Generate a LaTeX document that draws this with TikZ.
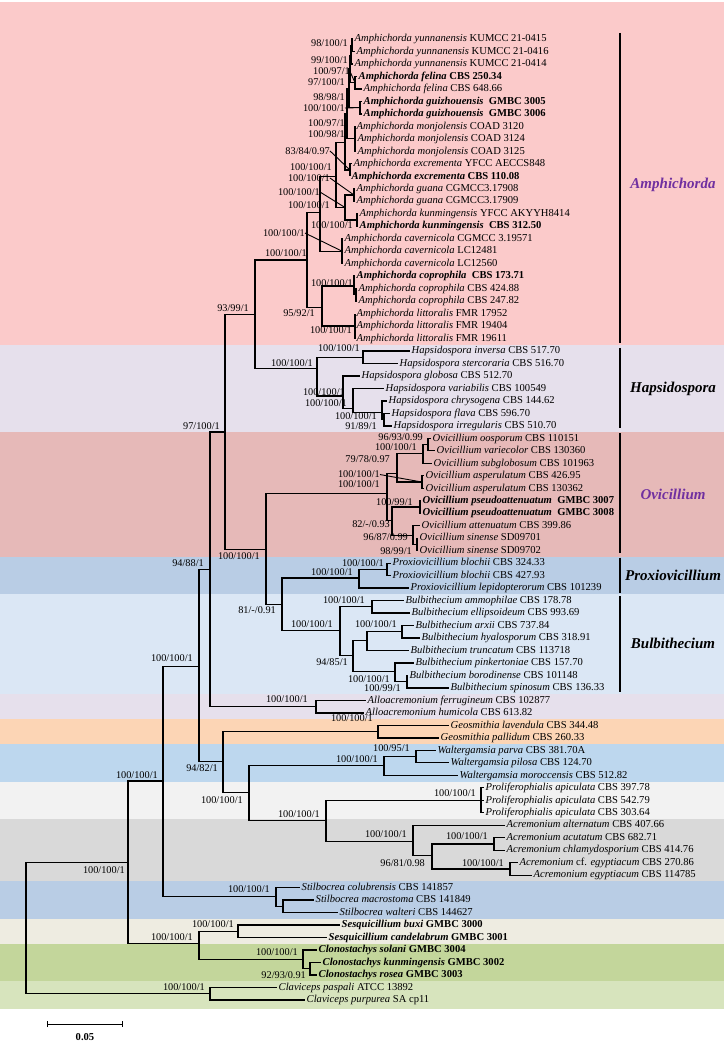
\documentclass[tikz,border=0pt]{standalone}
\usepackage{fontspec}
\setmainfont{Liberation Serif}
\usetikzlibrary{arrows.meta}

\definecolor{cAmph}{HTML}{FBCACA}
\definecolor{cHaps}{HTML}{E6E0EC}
\definecolor{cOvi}{HTML}{E6B9B8}
\definecolor{cProx}{HTML}{B9CDE5}
\definecolor{cBulb}{HTML}{DBE7F5}
\definecolor{cGeos}{HTML}{FCD5B5}
\definecolor{cWalt}{HTML}{BDD7EE}
\definecolor{cProl}{HTML}{F2F2F2}
\definecolor{cAcre}{HTML}{D9D9D9}
\definecolor{cSesq}{HTML}{EEECE1}
\definecolor{cClon}{HTML}{C3D69B}
\definecolor{cClav}{HTML}{D7E4BD}
\definecolor{cPurp}{HTML}{7030A0}

\newcommand{\tx}[2]{\textit{#1} #2}
\newcommand{\txb}[2]{\textbf{\textit{#1} #2}}

\tikzset{
  br/.style={line width=1.3pt},
  leaf/.style={anchor=west, inner sep=1.5pt, text height=7.5pt, text depth=2pt,
    font=\fontsize{10.6}{12}\selectfont},
  bs/.style={anchor=east, inner sep=0pt, font=\fontsize{10.3}{12}\selectfont},
  ptr/.style={line width=0.9pt},
  clade/.style={font=\fontsize{15}{18}\selectfont\bfseries\itshape},
  cbar/.style={line width=2.4pt},
}

\begin{document}
\begin{tikzpicture}[x=1pt, y=-12.48pt]
\useasboundingbox (0,-2.125) rectangle (724,81.69);

% background bands
\foreach \c/\a/\b in {cAmph/-2.0/25.5, cHaps/25.5/32.5, cOvi/32.5/42.5, cProx/42.5/45.5,
    cBulb/45.5/53.5, cHaps/53.5/55.5, cGeos/55.5/57.5, cWalt/57.5/60.5, cProl/60.5/63.5,
    cAcre/63.5/68.5, cProx/68.5/71.5, cSesq/71.5/73.5, cClon/73.5/76.5, cClav/76.5/78.7}
  \fill[\c] (0,\a) rectangle (724,\b);

% taxa
\node[leaf] (yun1) at (353,1) {\tx{Amphichorda yunnanensis}{KUMCC 21-0415}};
\node[leaf] (yun2) at (355,2) {\tx{Amphichorda yunnanensis}{KUMCC 21-0416}};
\node[leaf] (yun3) at (353,3) {\tx{Amphichorda yunnanensis}{KUMCC 21-0414}};
\node[leaf] (fel1) at (357,4) {\txb{Amphichorda felina}{CBS 250.34}};
\node[leaf] (fel2) at (362,5) {\tx{Amphichorda felina}{CBS 648.66}};
\node[leaf] (gui1) at (362,6) {\txb{Amphichorda guizhouensis}{~GMBC 3005}};
\node[leaf] (gui2) at (362,7) {\txb{Amphichorda guizhouensis}{~GMBC 3006}};
\node[leaf] (mon1) at (355,8) {\tx{Amphichorda monjolensis}{COAD 3120}};
\node[leaf] (mon2) at (356,9) {\tx{Amphichorda monjolensis}{COAD 3124}};
\node[leaf] (mon3) at (356,10) {\tx{Amphichorda monjolensis}{COAD 3125}};
\node[leaf] (exc1) at (352,11) {\tx{Amphichorda excrementa}{YFCC AECCS848}};
\node[leaf] (exc2) at (350,12) {\txb{Amphichorda excrementa}{CBS 110.08}};
\node[leaf] (gua1) at (355,13) {\tx{Amphichorda guana}{CGMCC3.17908}};
\node[leaf] (gua2) at (355,14) {\tx{Amphichorda guana}{CGMCC3.17909}};
\node[leaf] (kun1) at (358,15) {\tx{Amphichorda kunmingensis}{YFCC AKYYH8414}};
\node[leaf] (kun2) at (358,16) {\txb{Amphichorda kunmingensis}{~CBS 312.50}};
\node[leaf] (cav1) at (343,17) {\tx{Amphichorda cavernicola}{CGMCC 3.19571}};
\node[leaf] (cav2) at (343,18) {\tx{Amphichorda cavernicola}{LC12481}};
\node[leaf] (cav3) at (343,19) {\tx{Amphichorda cavernicola}{LC12560}};
\node[leaf] (cop1) at (355,20) {\txb{Amphichorda coprophila}{~CBS 173.71}};
\node[leaf] (cop2) at (357,21) {\tx{Amphichorda coprophila}{CBS 424.88}};
\node[leaf] (cop3) at (357,22) {\tx{Amphichorda coprophila}{CBS 247.82}};
\node[leaf] (lit1) at (355,23) {\tx{Amphichorda littoralis}{FMR 17952}};
\node[leaf] (lit2) at (355,24) {\tx{Amphichorda littoralis}{FMR 19404}};
\node[leaf] (lit3) at (355,25) {\tx{Amphichorda littoralis}{FMR 19611}};
\node[leaf] (hinv) at (410,26) {\tx{Hapsidospora inversa}{CBS 517.70}};
\node[leaf] (hste) at (398,27) {\tx{Hapsidospora stercoraria}{CBS 516.70}};
\node[leaf] (hglo) at (360,28) {\tx{Hapsidospora globosa}{CBS 512.70}};
\node[leaf] (hvar) at (384,29) {\tx{Hapsidospora variabilis}{CBS 100549}};
\node[leaf] (hchr) at (387,30) {\tx{Hapsidospora chrysogena}{CBS 144.62}};
\node[leaf] (hfla) at (390,31) {\tx{Hapsidospora flava}{CBS 596.70}};
\node[leaf] (hirr) at (392,32) {\tx{Hapsidospora irregularis}{CBS 510.70}};
\node[leaf] (ooos) at (431,33) {\tx{Ovicillium oosporum}{CBS 110151}};
\node[leaf] (ovar) at (435,34) {\tx{Ovicillium variecolor}{CBS 130360}};
\node[leaf] (osub) at (432,35) {\tx{Ovicillium subglobosum}{CBS 101963}};
\node[leaf] (oasp1) at (424,36) {\tx{Ovicillium asperulatum}{CBS 426.95}};
\node[leaf] (oasp2) at (424,37) {\tx{Ovicillium asperulatum}{CBS 130362}};
\node[leaf] (opse1) at (421,38) {\txb{Ovicillium pseudoattenuatum}{~GMBC 3007}};
\node[leaf] (opse2) at (421,39) {\txb{Ovicillium pseudoattenuatum}{~GMBC 3008}};
\node[leaf] (oatt) at (420,40) {\tx{Ovicillium attenuatum}{CBS 399.86}};
\node[leaf] (osin1) at (418,41) {\tx{Ovicillium sinense}{SD09701}};
\node[leaf] (osin2) at (418,42) {\tx{Ovicillium sinense}{SD09702}};
\node[leaf] (pblo1) at (391,43) {\tx{Proxiovicillium blochii}{CBS 324.33}};
\node[leaf] (pblo2) at (391,44) {\tx{Proxiovicillium blochii}{CBS 427.93}};
\node[leaf] (plep) at (409,45) {\tx{Proxiovicillium lepidopterorum}{CBS 101239}};
\node[leaf] (bamm) at (404,46) {\tx{Bulbithecium ammophilae}{CBS 178.78}};
\node[leaf] (bell) at (410,47) {\tx{Bulbithecium ellipsoideum}{CBS 993.69}};
\node[leaf] (barx) at (414,48) {\tx{Bulbithecium arxii}{CBS 737.84}};
\node[leaf] (bhya) at (420,49) {\tx{Bulbithecium hyalosporum}{CBS 318.91}};
\node[leaf] (btru) at (409,50) {\tx{Bulbithecium truncatum}{CBS 113718}};
\node[leaf] (bpin) at (414,51) {\tx{Bulbithecium pinkertoniae}{CBS 157.70}};
\node[leaf] (bbor) at (408,52) {\tx{Bulbithecium borodinense}{CBS 101148}};
\node[leaf] (bspi) at (449,53) {\tx{Bulbithecium spinosum}{CBS 136.33}};
\node[leaf] (afer) at (366,54) {\tx{Alloacremonium ferrugineum}{CBS 102877}};
\node[leaf] (ahum) at (364,55) {\tx{Alloacremonium humicola}{CBS 613.82}};
\node[leaf] (glav) at (449,56) {\tx{Geosmithia lavendula}{CBS 344.48}};
\node[leaf] (gpal) at (439,57) {\tx{Geosmithia pallidum}{CBS 260.33}};
\node[leaf] (wpar) at (436,58) {\tx{Waltergamsia parva}{CBS 381.70A}};
\node[leaf] (wpil) at (449,59) {\tx{Waltergamsia pilosa}{CBS 124.70}};
\node[leaf] (wmor) at (458,60) {\tx{Waltergamsia moroccensis}{CBS 512.82}};
\node[leaf] (pap1) at (484,61) {\tx{Proliferophialis apiculata}{CBS 397.78}};
\node[leaf] (pap2) at (484,62) {\tx{Proliferophialis apiculata}{CBS 542.79}};
\node[leaf] (pap3) at (484,63) {\tx{Proliferophialis apiculata}{CBS 303.64}};
\node[leaf] (aalt) at (505,64) {\tx{Acremonium alternatum}{CBS 407.66}};
\node[leaf] (aacu) at (505,65) {\tx{Acremonium acutatum}{CBS 682.71}};
\node[leaf] (achl) at (505,66) {\tx{Acremonium chlamydosporium}{CBS 414.76}};
\node[leaf] (acfe) at (518,67) {\textit{Acremonium} cf. \textit{egyptiacum} CBS 270.86};
\node[leaf] (aegy) at (532,68) {\tx{Acremonium egyptiacum}{CBS 114785}};
\node[leaf] (scol) at (300,69) {\tx{Stilbocrea colubrensis}{CBS 141857}};
\node[leaf] (smac) at (314,70) {\tx{Stilbocrea macrostoma}{CBS 141849}};
\node[leaf] (swal) at (338,71) {\tx{Stilbocrea walteri}{CBS 144627}};
\node[leaf] (sbux) at (340,72) {\txb{Sesquicillium buxi}{GMBC 3000}};
\node[leaf] (scan) at (327,73) {\txb{Sesquicillium candelabrum}{GMBC 3001}};
\node[leaf] (csol) at (317,74) {\txb{Clonostachys solani}{GMBC 3004}};
\node[leaf] (ckun) at (321,75) {\txb{Clonostachys kunmingensis}{GMBC 3002}};
\node[leaf] (cros) at (317,76) {\txb{Clonostachys rosea}{GMBC 3003}};
\node[leaf] (cpas) at (277,77) {\tx{Claviceps paspali}{ATCC 13892}};
\node[leaf] (cpur) at (305,78) {\tx{Claviceps purpurea}{SA cp11}};

% internal nodes
\coordinate (root) at (26,72);
\coordinate (clav) at (210,77.5);
\coordinate (nA) at (128,67.0);
\coordinate (nB) at (163,60.45);
\coordinate (nC) at (199,73.5);
\coordinate (stil) at (276,69.7);
\coordinate (stil2) at (283,70.5);
\coordinate (sesq) at (238,72.5);
\coordinate (clon) at (303,74.75);
\coordinate (clon2) at (310,75.5);
\coordinate (nD) at (199,51.3);
\coordinate (nG) at (223,58.9);
\coordinate (geos) at (378,56.5);
\coordinate (nW) at (249,61.4);
\coordinate (walt) at (384,59.2);
\coordinate (walt2) at (416,58.5);
\coordinate (nPA) at (326,63.6);
\coordinate (prol) at (481,62);
\coordinate (acr) at (413,65.3);
\coordinate (acr2) at (432,66.4);
\coordinate (acr3) at (494,65.5);
\coordinate (acr4) at (510,67.5);
\coordinate (nE) at (210,43.5);
\coordinate (allo) at (316,54.5);
\coordinate (nH) at (225,32.5);
\coordinate (nF) at (266,41.9);
\coordinate (pb) at (282,46.3);
\coordinate (prox) at (359,44.2);
\coordinate (prox2) at (387,43.5);
\coordinate (bulb) at (340,48.4);
\coordinate (bul1) at (372,46.5);
\coordinate (bulB) at (353,50.4);
\coordinate (bul3) at (367,49.2);
\coordinate (bul2) at (402,48.5);
\coordinate (bul5) at (395,51.7);
\coordinate (bul6) at (407,52.5);
\coordinate (ovi) at (387,37.4);
\coordinate (oA) at (397,35.8);
\coordinate (oA1) at (423,34.2);
\coordinate (oA2) at (428,33.5);
\coordinate (asp) at (422,36.5);
\coordinate (oB) at (392,39.6);
\coordinate (pse) at (420,38.5);
\coordinate (oC) at (413,40.8);
\coordinate (sin) at (417,41.5);
\coordinate (amha) at (255,23.1);
\coordinate (haps) at (317,27.4);
\coordinate (hapsA) at (363,26.5);
\coordinate (hapsB) at (343,29.6);
\coordinate (hapsC) at (353,30.6);
\coordinate (hapsD) at (382,30.9);
\coordinate (hapsE) at (384,31.5);
\coordinate (amph) at (307,18.7);
\coordinate (amA) at (320,14.9);
\coordinate (amB) at (322,22.5);
\coordinate (amC) at (336,12.0);
\coordinate (amD) at (345,9.3);
\coordinate (amE) at (347,7.0);
\coordinate (amF) at (349,5.0);
\coordinate (amG) at (350,3.4);
\coordinate (yunB) at (351,2.3);
\coordinate (yunA) at (352,1.5);
\coordinate (felA) at (355,4.5);
\coordinate (guiA) at (360,6.5);
\coordinate (monA) at (355,9);
\coordinate (excA) at (350,11.5);
\coordinate (gkA) at (345,14.5);
\coordinate (guaA) at (354,13.5);
\coordinate (kunA) at (357,15.5);
\coordinate (cavA) at (342,18);
\coordinate (copA) at (354,20.8);
\coordinate (copB) at (356,21.5);
\coordinate (litA) at (355,24);

% branches between clades
\foreach \p/\c in {root/nA, root/clav, nA/nB, nA/nC, nB/nD, nB/stil, stil/stil2, nC/sesq,
    nC/clon, clon/clon2, nD/nE, nD/nG, nG/geos, nG/nW, nW/walt, nW/nPA, walt/walt2,
    nPA/prol, nPA/acr, acr/acr2, acr2/acr3, acr2/acr4, nE/nH, nE/allo, nH/amha, nH/nF,
    nF/ovi, nF/pb, pb/prox, pb/bulb, prox/prox2, bulb/bul1, bulb/bulB, bulB/bul3,
    bulB/bul5, bul3/bul2, bul5/bul6, ovi/oA, ovi/oB, oA/oA1, oA/asp, oA1/oA2, oB/pse,
    oB/oC, oC/sin, amha/amph, amha/haps, haps/hapsA, haps/hapsB, hapsB/hapsC,
    hapsC/hapsD, hapsD/hapsE, amph/amA, amph/amB, amA/amC, amA/cavA, amC/amD, amC/gkA,
    amD/amE, amD/excA, amE/amF, amE/monA, amF/amG, amF/guiA, amG/yunB, amG/felA,
    yunB/yunA, gkA/guaA, gkA/kunA, amB/copA, amB/litA, copA/copB}
  \draw[br] (\p) |- (\c);

% branches to taxa
\foreach \p/\c in {clav/cpas, clav/cpur, stil/scol, stil2/smac, stil2/swal, sesq/sbux,
    sesq/scan, clon/csol, clon2/ckun, clon2/cros, geos/glav, geos/gpal, walt/wmor,
    walt2/wpar, walt2/wpil, prol/pap1, prol/pap2, prol/pap3, acr/aalt, acr3/aacu,
    acr3/achl, acr4/acfe, acr4/aegy, allo/afer, allo/ahum, prox/plep, prox2/pblo1,
    prox2/pblo2, bul1/bamm, bul1/bell, bul2/barx, bul2/bhya, bul3/btru, bul5/bpin,
    bul6/bbor, bul6/bspi, oA2/ooos, oA2/ovar, oA1/osub, asp/oasp1, asp/oasp2,
    pse/opse1, pse/opse2, oC/oatt, sin/osin1, sin/osin2, hapsA/hinv, hapsA/hste,
    hapsB/hglo, hapsC/hvar, hapsD/hchr, hapsE/hfla, hapsE/hirr, yunA/yun1, yunA/yun2,
    yunB/yun3, felA/fel1, felA/fel2, guiA/gui1, guiA/gui2, monA/mon1, monA/mon2,
    monA/mon3, excA/exc1, excA/exc2, guaA/gua1, guaA/gua2, kunA/kun1, kunA/kun2,
    cavA/cav1, cavA/cav2, cavA/cav3, copA/cop1, copB/cop2, copB/cop3, litA/lit1,
    litA/lit2, litA/lit3}
  \draw[br] (\p) |- (\c.west);

% support values (ML/MP/PP)
\node[bs] (clavL) at (205,76.95) {100/100/1};
\node[bs] (nAL) at (125,67.6) {100/100/1};
\node[bs] (nBL) at (158,60.0) {100/100/1};
\node[bs] (nCL) at (193,73.0) {100/100/1};
\node[bs] (sesqL) at (234,71.95) {100/100/1};
\node[bs] (clonL) at (298,74.2) {100/100/1};
\node[bs] (clon2L) at (306,76.0) {92/93/0.91};
\node[bs] (stilL) at (270,69.1) {100/100/1};
\node[bs] (nDL) at (193,50.6) {100/100/1};
\node[bs] (nGL) at (218,59.4) {94/82/1};
\node[bs] (geosL) at (373,55.4) {100/100/1};
\node[bs] (nWL) at (243,62.0) {100/100/1};
\node[bs] (waltL) at (378,58.7) {100/100/1};
\node[bs] (walt2L) at (410,57.8) {100/95/1};
\node[bs] (nPAL) at (320,63.1) {100/100/1};
\node[bs] (prolL) at (476,61.4) {100/100/1};
\node[bs] (acrL) at (407,64.7) {100/100/1};
\node[bs] (acr2L) at (425,67.0) {96/81/0.98};
\node[bs] (acr3L) at (488,64.9) {100/100/1};
\node[bs] (acr4L) at (504,67.0) {100/100/1};
\node[bs] (nEL) at (204,43.0) {94/88/1};
\node[bs] (alloL) at (308,53.9) {100/100/1};
\node[bs] (nHL) at (220,32.0) {97/100/1};
\node[bs] (nFL) at (260,42.4) {100/100/1};
\node[bs] (pbL) at (276,46.8) {81/-/0.91};
\node[bs] (proxL) at (353,43.7) {100/100/1};
\node[bs] (prox2L) at (384,43.0) {100/100/1};
\node[bs] (bulbL) at (333,47.9) {100/100/1};
\node[bs] (bul1L) at (365,45.95) {100/100/1};
\node[bs] (bul2L) at (397,47.9) {100/100/1};
\node[bs] (bulBL) at (348,50.9) {94/85/1};
\node[bs] (bul5L) at (390,52.3) {100/100/1};
\node[bs] (bul6L) at (401,53.0) {100/99/1};
\node[bs] (oviL) at (380,36.7) {100/100/1};
\node[bs] (oA2L) at (423,32.9) {96/93/0.99};
\node[bs] (oA1L) at (417,33.7) {100/100/1};
\node[bs] (oAL) at (390,34.7) {79/78/0.97};
\node[bs] (aspL) at (380,35.9) {100/100/1};
\node[bs] (pseL) at (413,38.1) {100/99/1};
\node[bs] (oBL) at (390,39.9) {82/-/0.93};
\node[bs] (oCL) at (408,40.9) {96/87/0.99};
\node[bs] (sinL) at (412,42.0) {98/99/1};
\node[bs] (amhaL) at (249,22.6) {93/99/1};
\node[bs] (amphL) at (307,18.15) {100/100/1};
\node[bs] (hapsL) at (313,27.0) {100/100/1};
\node[bs] (hapsAL) at (360,25.8) {100/100/1};
\node[bs] (hapsBL) at (345,29.3) {100/100/1};
\node[bs] (hapsCL) at (347,30.2) {100/100/1};
\node[bs] (hapsDL) at (377,31.2) {100/100/1};
\node[bs] (hapsEL) at (377,32.0) {91/89/1};
\node[bs] (yunAL) at (348,1.32) {98/100/1};
\node[bs] (yunBL) at (348,2.68) {99/100/1};
\node[bs] (felAL) at (350,3.6) {100/97/1};
\node[bs] (amGL) at (345,4.45) {97/100/1};
\node[bs] (amFL) at (345,5.65) {98/98/1};
\node[bs] (guiAL) at (345,6.53) {100/100/1};
\node[bs] (amEL) at (345,7.73) {100/97/1};
\node[bs] (monAL) at (345,8.6) {100/98/1};
\node[bs] (excAL) at (330,9.97) {83/84/0.97};
\node[bs] (amDL) at (332,11.25) {100/100/1};
\node[bs] (guaAL) at (330,12.14) {100/100/1};
\node[bs] (gkAL) at (320,13.26) {100/100/1};
\node[bs] (amCL) at (330,14.3) {100/100/1};
\node[bs] (kunAL) at (353,15.9) {100/100/1};
\node[bs] (cavAL) at (305,16.55) {100/100/1};
\node[bs] (copAL) at (353,20.55) {100/100/1};
\node[bs] (amBL) at (315,22.95) {95/92/1};
\node[bs] (litAL) at (352,24.3) {100/100/1};
\draw[ptr] (felAL.east) -- (felA);
\draw[ptr] (guiAL.east) -- (guiA);
\draw[ptr] (excAL.east) -- (excA);
\draw[ptr] (guaAL.east) -- (guaA);
\draw[ptr] (gkAL.east) -- (gkA);
\draw[ptr] (cavAL.east) -- (cavA);
\draw[ptr] (aspL.east) -- (asp);

% clade bars and names
\draw[cbar] (620,0.5) -- (620,25.35);
\draw[cbar] (620,25.75) -- (620,32.2);
\draw[cbar] (620,32.6) -- (620,42.2);
\draw[cbar] (620,42.55) -- (620,45.4);
\draw[cbar] (620,45.65) -- (620,53.3);
\node[clade, cPurp] (amphN) at (673,12.7) {Amphichorda};
\node[clade] (hapsN) at (673,29.0) {Hapsidospora};
\node[clade, cPurp] (oviN) at (673,37.5) {Ovicillium};
\node[clade] (proxN) at (673,44.0) {Proxiovicillium};
\node[clade] (bulbN) at (673,49.4) {Bulbithecium};

% scale bar
\coordinate (sb1) at (47,79.93);
\coordinate (sb2) at (123,79.93);
\draw[line width=1pt, {Bar[width=6pt]}-{Bar[width=6pt]}] (sb1) -- (sb2);
\node[font=\fontsize{10.6}{12}\selectfont\bfseries] (sbL) at (85,81.0) {0.05};
\end{tikzpicture}
\end{document}
